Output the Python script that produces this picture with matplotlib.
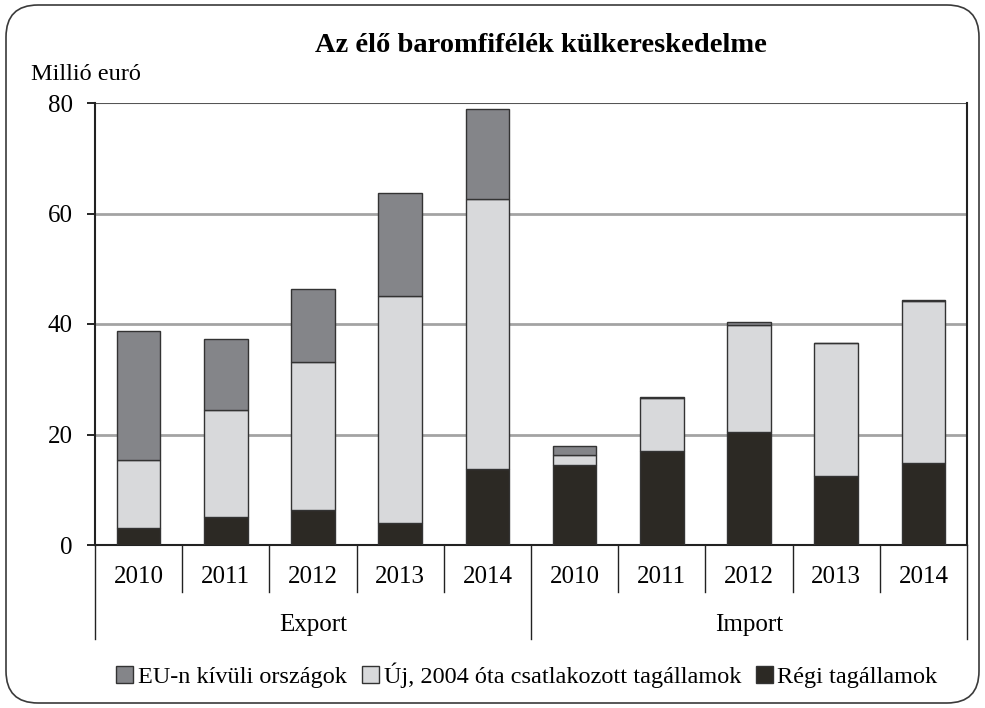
import numpy as np
import matplotlib.pyplot as plt
from matplotlib.patches import FancyBboxPatch

# ------------------------------------------------------------
# Data (Millió euró)
# ------------------------------------------------------------
years = ["2010", "2011", "2012", "2013", "2014"]
groups = ["Export", "Import"]

regi_export = [3.0, 5.1, 6.4, 3.9, 13.7]
uj_export = [12.4, 19.4, 26.8, 41.2, 49.0]
eun_kivuli_export = [23.4, 12.7, 13.1, 18.6, 16.2]

regi_import = [14.4, 17.0, 20.5, 12.4, 14.8]
uj_import = [1.9, 9.6, 19.3, 24.1, 29.3]
eun_kivuli_import = [1.6, 0.1, 0.6, 0.1, 0.2]

yticks = [0, 20, 40, 60, 80]

textsize = 18
plt.rcParams.update({
    "font.family": "Liberation Serif",
    "font.size": textsize,
})

regi = np.array(regi_export + regi_import)
uj = np.array(uj_export + uj_import)
kivuli = np.array(eun_kivuli_export + eun_kivuli_import)
x = np.arange(len(regi))

fig = plt.figure(figsize=(9.85, 7.08), dpi=100)
ax = fig.add_axes([95 / 985, 1 - 545 / 708, 872 / 985, 442 / 708])

# rounded frame around the whole chart
frame = FancyBboxPatch((6, 5), 973, 698, boxstyle="round,pad=0,rounding_size=32",
                       transform=None, facecolor="none", edgecolor="#3a3a3a",
                       linewidth=1.2)
fig.patches.append(frame)

c_kivuli = "#848589"
c_uj = "#d8d9db"
c_regi = "#2c2924"
edge = "#333333"
w = 0.5

ax.bar(x, regi, w, color=c_regi, edgecolor=edge, linewidth=1.0, zorder=3,
       label="Régi tagállamok")
ax.bar(x, uj, w, bottom=regi, color=c_uj, edgecolor=edge, linewidth=1.0, zorder=3,
       label="Új, 2004 óta csatlakozott tagállamok")
ax.bar(x, kivuli, w, bottom=regi + uj, color=c_kivuli, edgecolor=edge,
       linewidth=1.0, zorder=3, label="EU-n kívüli országok")

ax.set_xlim(-0.5, len(x) - 0.5)
ax.set_ylim(0, 80)
ax.set_yticks(yticks)
ax.tick_params(axis="y", direction="out", length=6, width=1.2, pad=10,
               labelsize=textsize)
for yv in yticks[1:-1]:
    ax.axhline(yv, color="#a3a3a3", linewidth=2, zorder=1)
ax.axhline(80, color="#555555", linewidth=1.5, zorder=1)

for s in ["left", "bottom", "right"]:
    ax.spines[s].set_linewidth(1.5)
    ax.spines[s].set_color("#222222")
ax.spines["top"].set_visible(False)

# category axis: year labels, separators and group labels
ax.set_xticks(x)
ax.set_xticklabels([])
ax.tick_params(axis="x", length=0)
xt = ax.get_xaxis_transform()
for i in x:
    ax.text(i, -0.072, years[i % 5], transform=xt, ha="center", va="center",
            fontsize=textsize)
for b in np.arange(0.5, len(x) - 1, 1.0):
    if b == 4.5:
        continue
    ax.plot([b, b], [0, -0.106], transform=xt, color="#222222", linewidth=1.0,
            clip_on=False)
for b in [-0.5, 4.5, len(x) - 0.5]:
    ax.plot([b, b], [0, -0.213], transform=xt, color="#222222", linewidth=1.0,
            clip_on=False)
for g, name in enumerate(groups):
    ax.text(g * 5 + 2, -0.181, name, transform=xt, ha="center", va="center",
            fontsize=textsize)

fig.text(541 / 985, 1 - 45 / 708, "Az élő baromfifélék külkereskedelme",
         ha="center", va="center", fontsize=20.5, fontweight="bold")
fig.text(31 / 985, 1 - 74 / 708, "Millió euró", ha="left", va="center",
         fontsize=17.5)

handles, labels = ax.get_legend_handles_labels()
fig.legend(handles[::-1], labels[::-1], loc="center",
           bbox_to_anchor=(0.535, 1 - 675 / 708), ncol=3, frameon=False,
           handlelength=0.7, handleheight=0.7, handletextpad=0.2,
           columnspacing=0.6, fontsize=17.5)

fig.savefig("out.png", dpi=100)
